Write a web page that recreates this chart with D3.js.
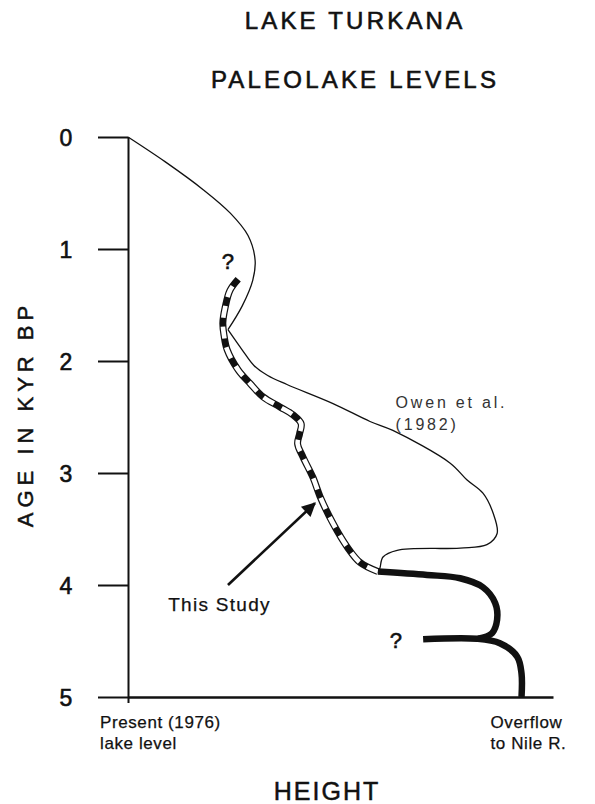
<!DOCTYPE html>
<html lang="en">
<head>
    <meta charset="UTF-8">
    <title>Lake Turkana - Paleolake Levels</title>
    <script src="https://d3js.org/d3.v7.min.js"></script>
    <style>
        body { margin: 0; background: #fff; }
        text { font-family: "Liberation Sans", Arial, Helvetica, sans-serif; fill: #111; }
        .title { font-size: 24px; letter-spacing: 3.2px; stroke: #111; stroke-width: 0.6px; }
        .axis-title { font-size: 22px; letter-spacing: 5px; stroke: #111; stroke-width: 0.5px; }
        .note { font-size: 17px; letter-spacing: 0.6px; stroke: #111; stroke-width: 0.25px; }
        .owen-label { font-size: 16px; letter-spacing: 2.8px; fill: #333; }
        .qmark { font-size: 22px; stroke: #111; stroke-width: 0.6px; }
    </style>
</head>
<body>
    <svg width="595" height="804"></svg>
    <script>
        // age (kyr BP) on y, height (0 = 1976 level, 100 = overflow to Nile) on x
        const ageTicks = [0, 1, 2, 3, 4, 5];

        // Owen et al. (1982) curve, split at the cusp where it meets this study
        const owenUpper = [
            [0, 0], [9.4, 0.22], [19.1, 0.47], [26.0, 0.68], [30.5, 0.88],
            [32.3, 1.10], [31.7, 1.28], [29.0, 1.51], [25.4, 1.72]
        ];
        const owenLower = [
            [25.4, 1.72], [29.0, 1.90], [32.0, 2.04], [35.5, 2.13], [40.4, 2.21],
            [52.1, 2.38], [61.5, 2.54], [67.3, 2.62], [81.8, 2.91], [86.1, 3.06],
            [90.2, 3.18], [92.8, 3.36], [93.8, 3.54], [91.2, 3.64], [84.4, 3.67],
            [68.4, 3.69], [64.8, 3.75], [64.0, 3.85], [63.5, 3.88]
        ];

        // this study (striped line)
        const thisStudy = [
            [28.0, 1.27], [25.9, 1.37], [24.7, 1.52], [24.1, 1.66], [24.4, 1.77],
            [25.2, 1.90], [28.0, 2.08], [31.0, 2.20], [34.3, 2.32], [38.6, 2.41],
            [41.9, 2.48], [44.0, 2.56], [43.6, 2.65], [43.1, 2.74], [44.5, 2.86],
            [47.0, 3.04], [48.8, 3.21], [52.1, 3.45], [55.7, 3.66], [59.0, 3.80],
            [63.5, 3.88]
        ];

        // this study, overflow stage (thick line)
        const overflowUpper = [
            [63.5, 3.88], [76.0, 3.91], [84.4, 3.94], [90.2, 4.02], [93.3, 4.16],
            [93.8, 4.31], [92.5, 4.43], [89.0, 4.48]
        ];
        const overflowLower = [
            [75.0, 4.485], [88.7, 4.48], [94.5, 4.52], [98.9, 4.64], [100, 4.79],
            [100, 5.0]
        ];

        // annotation anchors in data units
        const arrowTail = [25.4, 4.0];
        const arrowTip = [47.5, 3.27];
        const owenLabelAt = [68.0, 2.42];
        const studyLabelAt = [10.2, 4.23];
        const question1At = [25.4, 1.18];
        const question2At = [68.1, 4.56];

        const svg = d3.select("svg");

        const x = d3.scaleLinear().domain([0, 108]).range([128, 553]);
        const y = d3.scaleLinear().domain([0, 5]).range([137, 697]);

        // titles
        svg.append("text").attr("class", "title")
            .attr("x", 355).attr("y", 29).attr("text-anchor", "middle")
            .text("LAKE  TURKANA");
        svg.append("text").attr("class", "title")
            .attr("x", 355).attr("y", 88).attr("text-anchor", "middle")
            .text("PALEOLAKE LEVELS");

        // y axis
        const yAxis = svg.append("g")
            .attr("transform", `translate(${x(0)},0)`)
            .call(d3.axisLeft(y).tickValues(ageTicks).tickSize(30).tickSizeOuter(0).tickFormat(d3.format("d")));
        yAxis.select(".domain").attr("stroke", "#111").attr("stroke-width", 2);
        yAxis.selectAll(".tick line").attr("stroke", "#111").attr("stroke-width", 2);
        yAxis.selectAll(".tick text")
            .attr("x", -62).attr("dy", "0.36em")
            .attr("text-anchor", "middle")
            .attr("fill", "#111")
            .attr("stroke", "#111").attr("stroke-width", 0.6)
            .style("font-size", "23px")
            .style("font-family", '"Liberation Sans", Arial, sans-serif');

        // x axis (baseline)
        const xAxis = svg.append("g")
            .attr("transform", `translate(0,${y(5)})`)
            .call(d3.axisBottom(x).tickValues([0]).tickSize(6).tickSizeOuter(0).tickFormat(""));
        xAxis.select(".domain").attr("stroke", "#111").attr("stroke-width", 2.5);
        xAxis.selectAll(".tick line").attr("stroke", "#111").attr("stroke-width", 2);

        const lowLabel = svg.append("text").attr("class", "note")
            .attr("x", x(0) - 28).attr("y", y(5) + 31);
        lowLabel.append("tspan").text("Present (1976)");
        lowLabel.append("tspan").attr("x", x(0) - 28).attr("dy", 21).text("lake level");

        const highLabel = svg.append("text").attr("class", "note")
            .attr("x", x(100) - 31).attr("y", y(5) + 31);
        highLabel.append("tspan").text("Overflow");
        highLabel.append("tspan").attr("x", x(100) - 31).attr("dy", 21).text("to Nile R.");

        svg.append("text").attr("class", "axis-title")
            .attr("x", 327).attr("y", 800).attr("text-anchor", "middle")
            .style("font-size", "25px").style("letter-spacing", "2px")
            .text("HEIGHT");

        svg.append("text").attr("class", "axis-title")
            .attr("transform", "translate(33,414) rotate(-90)")
            .attr("text-anchor", "middle")
            .text("AGE IN KYR BP");

        // curves
        const line = d3.line()
            .x(d => x(d[0]))
            .y(d => y(d[1]))
            .curve(d3.curveCatmullRom.alpha(0.5));

        const g = svg.append("g").attr("fill", "none");

        [owenUpper, owenLower].forEach(pts => {
            g.append("path").attr("d", line(pts))
                .attr("stroke", "#111").attr("stroke-width", 1.3);
        });

        g.append("path").attr("d", line(thisStudy))
            .attr("stroke", "#111").attr("stroke-width", 7);
        g.append("path").attr("d", line(thisStudy))
            .attr("stroke", "#fff").attr("stroke-width", 4.6)
            .attr("stroke-dasharray", "12 9")
            .attr("stroke-dashoffset", 12);

        [overflowUpper, overflowLower].forEach(pts => {
            g.append("path").attr("d", line(pts))
                .attr("stroke", "#111").attr("stroke-width", 6.5);
        });

        // arrow to this study
        svg.append("defs").append("marker")
            .attr("id", "head")
            .attr("viewBox", "0 0 10 10")
            .attr("refX", 9).attr("refY", 5)
            .attr("markerUnits", "userSpaceOnUse")
            .attr("markerWidth", 18).attr("markerHeight", 14)
            .attr("orient", "auto")
            .append("path").attr("d", "M0,0 L10,5 L0,10 Z").attr("fill", "#111");

        svg.append("line")
            .attr("x1", x(arrowTail[0])).attr("y1", y(arrowTail[1]))
            .attr("x2", x(arrowTip[0])).attr("y2", y(arrowTip[1]))
            .attr("stroke", "#111").attr("stroke-width", 2.6)
            .attr("marker-end", "url(#head)");

        // labels
        svg.append("text").attr("class", "note")
            .attr("x", x(studyLabelAt[0])).attr("y", y(studyLabelAt[1]))
            .style("font-size", "19px").style("letter-spacing", "1.3px")
            .text("This Study");

        const owenText = svg.append("text").attr("class", "owen-label")
            .attr("x", x(owenLabelAt[0])).attr("y", y(owenLabelAt[1]));
        owenText.append("tspan").text("Owen et al.");
        owenText.append("tspan").attr("x", x(owenLabelAt[0])).attr("dy", 22).text("(1982)");

        [question1At, question2At].forEach(p => {
            svg.append("text").attr("class", "qmark")
                .attr("x", x(p[0])).attr("y", y(p[1]))
                .attr("text-anchor", "middle")
                .text("?");
        });
    </script>
</body>
</html>
